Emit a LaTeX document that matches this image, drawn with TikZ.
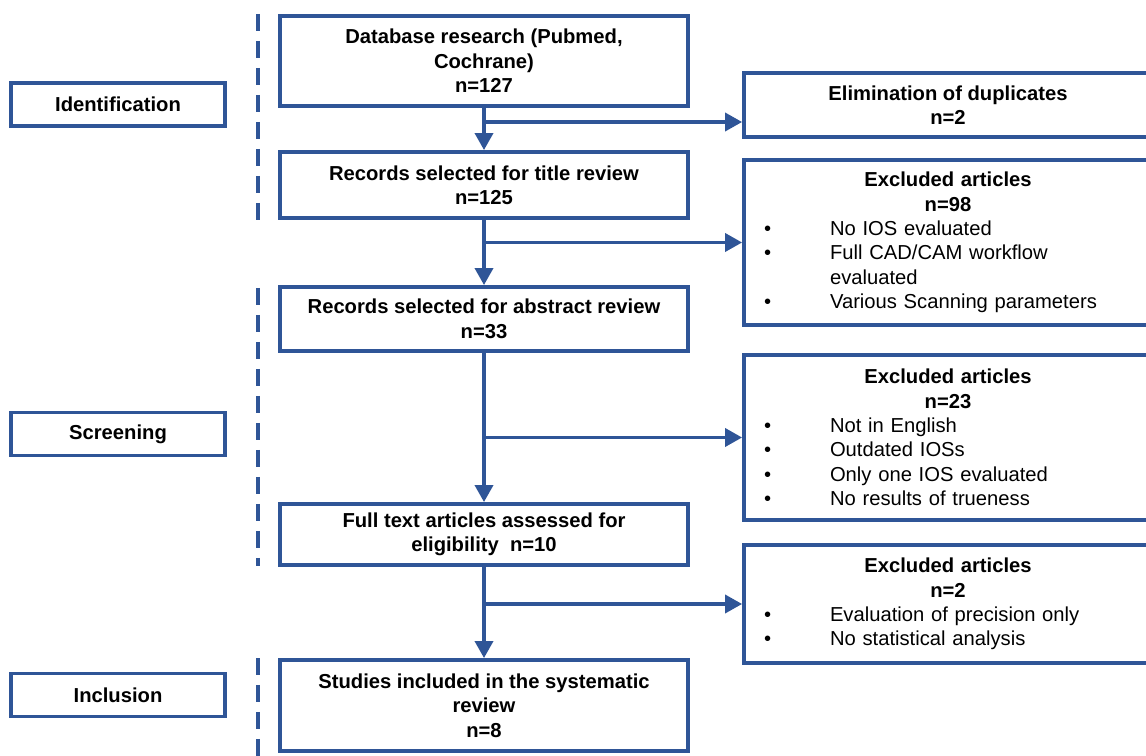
\documentclass[tikz,border=0pt]{standalone}
\usepackage{fontspec}
\setmainfont{Liberation Sans}
\usetikzlibrary{arrows.meta,positioning}
\definecolor{flowblue}{RGB}{47,85,151}
\newcommand{\boxfont}{\fontsize{11.5pt}{13.9pt}\selectfont}
\newcommand{\exitem}[1]{\par\noindent\makebox[1.52cm][l]{\hspace{0.2cm}\textbullet}#1}
\newcommand{\exmore}[1]{\par\noindent\hspace*{1.52cm}#1}

\begin{document}
\begin{tikzpicture}[x=0.02cm, y=-0.02cm, font=\boxfont,
    mainbox/.style={draw=flowblue, line width=2.2pt, minimum width=8.16cm,
      align=center, font=\boxfont\bfseries},
    phasebox/.style={draw=flowblue, line width=2.2pt, minimum width=4.28cm,
      minimum height=0.86cm, font=\boxfont\bfseries},
    exclbox/.style={draw=flowblue, line width=2.2pt, minimum width=8.16cm,
      text width=7.76cm, inner xsep=0.2cm, align=left},
    flow/.style={draw=flowblue, line width=2pt, -{Triangle[length=0.34cm,width=0.36cm]}},
    phaseline/.style={draw=flowblue, line width=2.2pt, dash pattern=on 0.34cm off 0.2cm}]
  \useasboundingbox (0,0) rectangle (1146,756);
  % Phase labels
  \node[phasebox] (ident) at (118,104.5) {Identification};
  \node[phasebox] (screen) at (118,434) {Screening};
  \node[phasebox] (incl) at (118,695) {Inclusion};
  % Dashed separators
  \draw[phaseline] (258,14) -- (258,228);
  \draw[phaseline] (258,288) -- (258,566);
  \draw[phaseline] (258,658) -- (258,756);
  % Main flow
  \node[mainbox, minimum height=1.8cm] (db) at (484,61)
    {Database research (Pubmed,\\ Cochrane)\\ n=127};
  \node[mainbox, minimum height=1.32cm] (titlerev) at (484,185)
    {Records selected for title review\\ n=125};
  \node[mainbox, minimum height=1.28cm] (absrev) at (484,319)
    {Records selected for abstract review\\ n=33};
  \node[mainbox, minimum height=1.22cm] (fulltxt) at (484,534.5)
    {Full text articles assessed for\\ eligibility~~n=10};
  \node[mainbox, minimum height=1.82cm] (studies) at (484,705.5)
    {Studies included in the systematic\\ review\\ n=8};
  % Exclusions
  \node[mainbox, minimum height=1.28cm] (dup) at (948,105)
    {Elimination of duplicates\\ n=2};
  \node[exclbox, minimum height=3.3cm] (excltitle) at (948,242.5)
    {{\centering\bfseries Excluded articles\\ n=98\par}
     \exitem{No IOS evaluated}
     \exitem{Full CAD/CAM workflow}
     \exmore{evaluated}
     \exitem{Various Scanning parameters}};
  \node[exclbox, minimum height=3.3cm] (exclabs) at (948,437.5)
    {{\centering\bfseries Excluded articles\\ n=23\par}
     \exitem{Not in English}
     \exitem{Outdated IOSs}
     \exitem{Only one IOS evaluated}
     \exitem{No results of trueness}};
  \node[exclbox, minimum height=2.36cm] (exclfull) at (948,604)
    {{\centering\bfseries Excluded articles\\ n=2\par}
     \exitem{Evaluation of precision only}
     \exitem{No statistical analysis}};
  % Arrows
  \draw[flow] (db) -- (titlerev);
  \draw[flow] (titlerev) -- (absrev);
  \draw[flow] (absrev) -- (fulltxt);
  \draw[flow] (fulltxt) -- (studies);
  \coordinate (br1) at (484,122);
  \coordinate (br2) at (484,242.5);
  \coordinate (br3) at (484,437.5);
  \coordinate (br4) at (484,604);
  \draw[flow] (br1) -- (br1 -| dup.west);
  \draw[flow] (br2) -- (excltitle);
  \draw[flow] (br3) -- (exclabs);
  \draw[flow] (br4) -- (exclfull);
\end{tikzpicture}
\end{document}
